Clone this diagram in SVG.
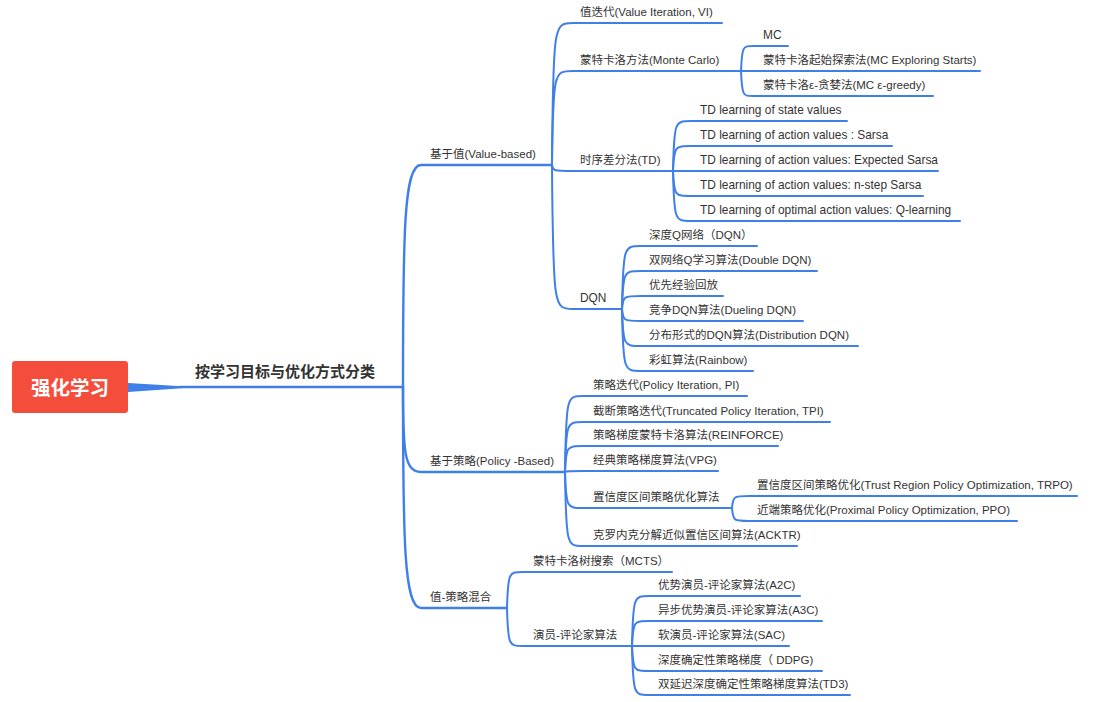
<svg xmlns="http://www.w3.org/2000/svg" width="1105" height="702" viewBox="0 0 1105 702">
<style>
.t{font-family:"Liberation Sans","Noto Sans CJK SC",sans-serif;font-size:11.5px;fill:#333333}
.l{font-size:11.9px}
.c{fill:none;stroke:#3f7fe8;stroke-width:2;stroke-linecap:round}
.c1{fill:none;stroke:#3f7fe8;stroke-width:2.4;stroke-linecap:round}
</style>
<rect width="1105" height="702" fill="#ffffff"/>
<g id="connectors">
<polygon points="128,383 182,386.2 182,388.2 128,392" fill="#3f7fe8"/>
<path class="c1" d="M180,387 H403"/>
<path class="c1" d="M403,387 C403,232 404,165 421,165 H552"/>
<path class="c1" d="M403,387 C403,450 404,472 421,472 H565"/>
<path class="c1" d="M403,387 C403,540 404,608 421,608 H507"/>
<path class="c" d="M552,165 C553,23 554,23 573,23 H722"/>
<path class="c" d="M552,165 C553,71 554,71 573,71 H741"/>
<path class="c" d="M552,165 C553,171 554,171 573,171 H673"/>
<path class="c" d="M552,165 C553,309 554,309 573,309 H622"/>
<path class="c" d="M741,71 C742,46 743,46 753,46 H788"/>
<path class="c" d="M741,71 H980"/>
<path class="c" d="M741,71 C742,96 743,96 753,96 H933"/>
<path class="c" d="M673,171 C674,121 675,121 691,121 H847"/>
<path class="c" d="M673,171 C674,146 675,146 691,146 H892"/>
<path class="c" d="M673,171 H938"/>
<path class="c" d="M673,171 C674,196 675,196 691,196 H923"/>
<path class="c" d="M673,171 C674,221 675,221 691,221 H960"/>
<path class="c" d="M622,309 C623,246 624,246 641,246 H757"/>
<path class="c" d="M622,309 C623,271 624,271 641,271 H817"/>
<path class="c" d="M622,309 C623,296 624,296 641,296 H723"/>
<path class="c" d="M622,309 C623,321 624,321 641,321 H803"/>
<path class="c" d="M622,309 C623,346 624,346 641,346 H858"/>
<path class="c" d="M622,309 C623,371 624,371 641,371 H753"/>
<path class="c" d="M565,472 C566,396 567,396 583,396 H747"/>
<path class="c" d="M565,472 C566,422 567,422 583,422 H830"/>
<path class="c" d="M565,472 C566,446 567,446 583,446 H778"/>
<path class="c" d="M565,472 C566,471 567,471 583,471 H718"/>
<path class="c" d="M565,472 C566,508 567,508 583,508 H732"/>
<path class="c" d="M565,472 C566,546 567,546 583,546 H797"/>
<path class="c" d="M732,508 C733,496 734,496 749,496 H1077"/>
<path class="c" d="M732,508 C733,521 734,521 749,521 H1017"/>
<path class="c" d="M507,608 C508,572 509,572 523,572 H672"/>
<path class="c" d="M507,608 C508,646 509,646 523,646 H632"/>
<path class="c" d="M632,646 C633,596 634,596 649,596 H800"/>
<path class="c" d="M632,646 C633,621 634,621 649,621 H822"/>
<path class="c" d="M632,646 H789"/>
<path class="c" d="M632,646 C633,671 634,671 649,671 H822"/>
<path class="c" d="M632,646 C633,695 634,695 649,695 H850"/>
</g>
<g id="root">
<rect x="12" y="361" width="116" height="52" rx="3" fill="#f44d3c"/>
<text x="70" y="395" text-anchor="middle" style="font-family:'Liberation Sans','Noto Sans CJK SC',sans-serif;font-size:19.5px;font-weight:bold;fill:#ffffff">强化学习</text>
</g>
<g id="n-classify"><text x="195" y="377" style="font-family:'Liberation Sans','Noto Sans CJK SC',sans-serif;font-size:15px;font-weight:bold;fill:#333333">按学习目标与优化方式分类</text></g>
<g id="n-value"><text class="t" x="430" y="158">基于值(Value-based)</text></g>
<g id="n-policy"><text class="t" x="430" y="465">基于策略(Policy -Based)</text></g>
<g id="n-mixed"><text class="t" x="430" y="601">值-策略混合</text></g>
<g id="n-vi"><text class="t" x="580" y="16">值迭代(Value Iteration, VI)</text></g>
<g id="n-mc"><text class="t" x="580" y="64">蒙特卡洛方法(Monte Carlo)</text></g>
<g id="n-td"><text class="t" x="580" y="164">时序差分法(TD)</text></g>
<g id="n-dqn"><text class="t l" x="580" y="302">DQN</text></g>
<g id="n-mc1"><text class="t l" x="763" y="39">MC</text></g>
<g id="n-mc2"><text class="t" x="763" y="64">蒙特卡洛起始探索法(MC Exploring Starts)</text></g>
<g id="n-mc3"><text class="t" x="763" y="89">蒙特卡洛ε-贪婪法(MC ε-greedy)</text></g>
<g id="n-td1"><text class="t l" x="700" y="114">TD learning of state values</text></g>
<g id="n-td2"><text class="t l" x="700" y="139">TD learning of action values : Sarsa</text></g>
<g id="n-td3"><text class="t l" x="700" y="164">TD learning of action values: Expected Sarsa</text></g>
<g id="n-td4"><text class="t l" x="700" y="189">TD learning of action values: n-step Sarsa</text></g>
<g id="n-td5"><text class="t l" x="700" y="214">TD learning of optimal action values: Q-learning</text></g>
<g id="n-dqn1"><text class="t" x="649" y="239">深度Q网络（DQN）</text></g>
<g id="n-dqn2"><text class="t" x="649" y="264">双网络Q学习算法(Double DQN)</text></g>
<g id="n-dqn3"><text class="t" x="649" y="289">优先经验回放</text></g>
<g id="n-dqn4"><text class="t" x="649" y="314">竞争DQN算法(Dueling DQN)</text></g>
<g id="n-dqn5"><text class="t" x="649" y="339">分布形式的DQN算法(Distribution DQN)</text></g>
<g id="n-dqn6"><text class="t" x="649" y="364">彩虹算法(Rainbow)</text></g>
<g id="n-p1"><text class="t" x="593" y="389">策略迭代(Policy Iteration, PI)</text></g>
<g id="n-p2"><text class="t" x="593" y="415">截断策略迭代(Truncated Policy Iteration, TPI)</text></g>
<g id="n-p3"><text class="t" x="593" y="439">策略梯度蒙特卡洛算法(REINFORCE)</text></g>
<g id="n-p4"><text class="t" x="593" y="464">经典策略梯度算法(VPG)</text></g>
<g id="n-p5"><text class="t" x="593" y="501">置信度区间策略优化算法</text></g>
<g id="n-p6"><text class="t" x="593" y="539">克罗内克分解近似置信区间算法(ACKTR)</text></g>
<g id="n-trpo"><text class="t" x="757" y="489">置信度区间策略优化(Trust Region Policy Optimization, TRPO)</text></g>
<g id="n-ppo"><text class="t" x="757" y="514">近端策略优化(Proximal Policy Optimization, PPO)</text></g>
<g id="n-mcts"><text class="t" x="533" y="565">蒙特卡洛树搜索（MCTS）</text></g>
<g id="n-ac"><text class="t" x="533" y="639">演员-评论家算法</text></g>
<g id="n-a2c"><text class="t" x="658" y="589">优势演员-评论家算法(A2C)</text></g>
<g id="n-a3c"><text class="t" x="658" y="614">异步优势演员-评论家算法(A3C)</text></g>
<g id="n-sac"><text class="t" x="658" y="639">软演员-评论家算法(SAC)</text></g>
<g id="n-ddpg"><text class="t" x="658" y="664">深度确定性策略梯度（ DDPG)</text></g>
<g id="n-td3a"><text class="t" x="658" y="688">双延迟深度确定性策略梯度算法(TD3)</text></g>
</svg>
